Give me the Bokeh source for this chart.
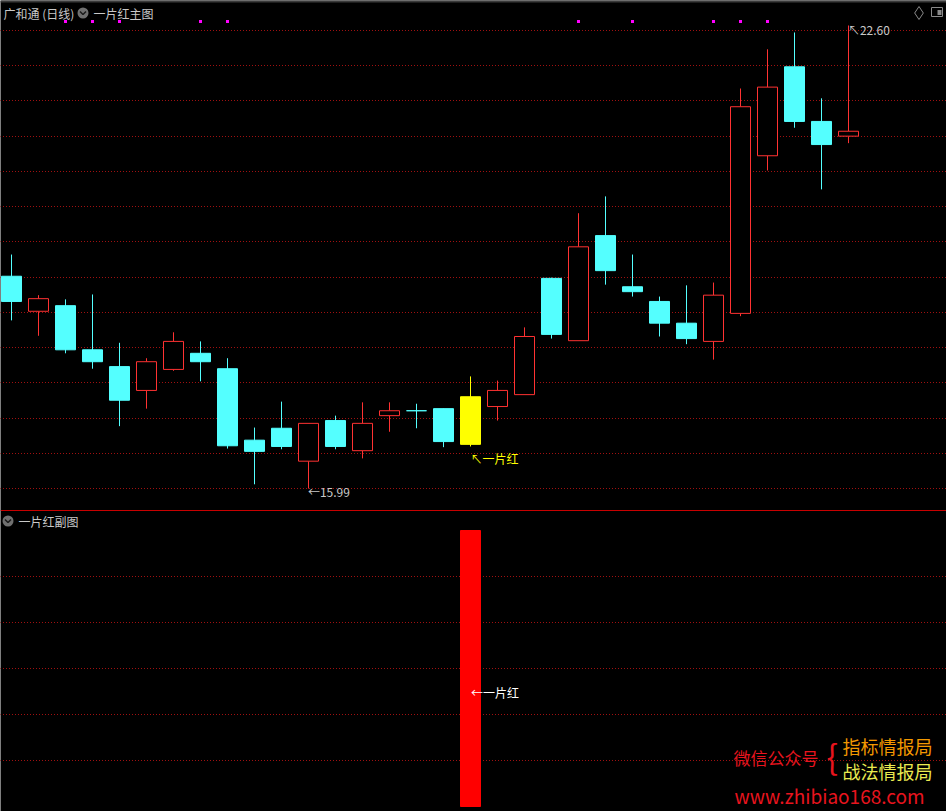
import numpy as np
from bokeh.plotting import figure
from bokeh.models import Range1d, ColumnDataSource
from bokeh.core.properties import value
from bokeh.embed import file_html
from bokeh.resources import INLINE

# ---- 广和通 daily bars ----
opens  = [19.02, 18.52, 18.60, 17.97, 17.73, 17.39, 17.69, 17.92, 17.70, 16.68,
          16.85, 16.38, 16.96, 16.53, 17.03, 17.10, 17.13, 16.62, 17.16, 17.33,
          18.99, 18.10, 19.60, 18.87, 18.66, 18.35, 18.09, 18.49, 20.74, 22.01,
          21.23, 21.02]
highs  = [19.33, 18.75, 18.69, 18.76, 18.07, 17.85, 18.22, 18.09, 17.85, 16.86,
          17.23, 16.92, 17.03, 17.22, 17.22, 17.20, 17.13, 17.59, 17.53, 18.29,
          19.00, 19.92, 20.16, 19.33, 18.73, 18.89, 18.93, 21.70, 22.26, 22.50,
          21.56, 22.60]
lows   = [18.39, 18.17, 17.92, 17.70, 16.88, 17.13, 17.67, 17.52, 16.56, 16.05,
          16.55, 15.99, 16.55, 16.42, 16.80, 16.85, 16.58, 16.59, 16.96, 17.33,
          18.13, 18.10, 18.90, 18.73, 18.16, 18.05, 17.83, 18.45, 20.53, 21.14,
          20.26, 20.92]
closes = [18.66, 18.70, 17.97, 17.80, 17.25, 17.80, 18.09, 17.80, 16.60, 16.52,
          16.59, 16.92, 16.59, 16.92, 17.10, 17.10, 16.66, 17.30, 17.39, 18.16,
          18.19, 19.44, 19.10, 18.80, 18.35, 18.13, 18.75, 21.44, 21.72, 21.23,
          20.90, 21.09]
# condition flags drawn as dots along the top of the main panel
top_flags = [0, 0, 1, 1, 1, 0, 0, 1, 1, 0, 0, 0, 0, 0, 0, 0,
             0, 0, 0, 0, 0, 1, 0, 1, 0, 0, 1, 1, 1, 0, 0, 0]
# 一片红 signal (main-panel highlight + sub-panel bar)
signal = [0] * 17 + [1] + [0] * 14

# ---- colours ----
UP = "#FF3232"
DOWN = "#54FFFF"
SIG = "#FFFF00"
GRID = "#A01010"
TXT = "#C8C8C8"
FONT = value("Noto Sans CJK SC")

# ---- layout constants (pixels) ----
W, H = 946, 811
X0, DX = 11.0, 27.0
LOW_PX, PX_PER_UNIT = 488.0, 70.05
SUB_ZERO_PX, SUB_PX = 806.0, 276.0

n = len(opens)
idx = list(range(n))
low_all = min(lows)


def sx(px):
    return (px - X0) / DX


def sy(py):
    return low_all + (LOW_PX - py) / PX_PER_UNIT


def ss(py):
    return (SUB_ZERO_PX - py) / SUB_PX


p = figure(width=W, height=H,
           x_range=Range1d(sx(0), sx(W)), y_range=Range1d(sy(H), sy(0)),
           output_backend="svg", toolbar_location=None, min_border=0,
           x_axis_location=None, y_axis_location=None,
           background_fill_color="black", border_fill_color="black",
           outline_line_color=None)
p.grid.visible = False
p.extra_y_ranges = {"sub": Range1d(ss(H), ss(0))}

# ---- dotted grid lines (dash phase kept on whole pixels) ----
main_levels = [sy(30 + round(k * 458.0 / 13)) for k in range(14)]
p.segment(x0=sx(-0.5), x1=sx(W), y0=main_levels, y1=main_levels,
          line_color=GRID, line_dash="1 2", line_width=1)
sub_levels = [k / 6 for k in range(1, 6)]
p.segment(x0=sx(-0.5), x1=sx(W), y0=sub_levels, y1=sub_levels,
          line_color=GRID, line_dash="1 2", line_width=1, y_range_name="sub")

# panel separator and top strip
p.segment(x0=sx(0), x1=sx(W), y0=sy(510), y1=sy(510), line_color="#C80000", line_width=1)
p.quad(left=sx(0), right=sx(W), top=sy(0), bottom=sy(2), fill_color="#3A3A3A", line_color=None)

# ---- candlesticks ----
wx0, wy0, wy1, wc = [], [], [], []
bx, btop, bbot, bfill, bline = [], [], [], [], []
for i in idx:
    o, h, l, c = opens[i], highs[i], lows[i], closes[i]
    hi_b, lo_b = max(o, c), min(o, c)
    if signal[i]:
        col, fill = SIG, SIG
        wx0 += [i]; wy0 += [h]; wy1 += [l]; wc += [col]
    elif c > o:
        col, fill = UP, "black"
        wx0 += [i, i]; wy0 += [h, lo_b]; wy1 += [hi_b, l]; wc += [col, col]
    else:
        col, fill = DOWN, DOWN
        wx0 += [i]; wy0 += [h]; wy1 += [l]; wc += [col]
    bx.append(i); btop.append(hi_b); bbot.append(lo_b); bfill.append(fill); bline.append(col)

p.segment(x0=wx0, x1=wx0, y0=wy0, y1=wy1, line_color=wc, line_width=1)
body = ColumnDataSource(dict(x=bx, top=btop, bottom=bbot, fill=bfill, line=bline))
p.vbar(x="x", width=20 / DX, top="top", bottom="bottom", source=body,
       fill_color="fill", line_color="line", line_width=1)

# top condition dots
flag_x = [i for i in idx if top_flags[i]]
p.scatter(x=flag_x, y=[sy(21)] * len(flag_x), marker="square", size=3,
          fill_color="#FF00FF", line_color=None)

# ---- sub panel signal bars ----
sig_x = [i for i in idx if signal[i]]
p.vbar(x=sig_x, width=20 / DX, top=[signal[i] for i in sig_x], bottom=0,
       fill_color="#FF0000", line_color="#FF0000", line_width=1, y_range_name="sub")

# ---- price annotations ----
i_hi = int(np.argmax(highs))
i_lo = int(np.argmin(lows))
p.text(x=[i_hi - 0.02], y=[sy(28.5)], text=[f"↖{highs[i_hi]:.2f}"], text_font=FONT,
       text_font_size="12px", text_color=TXT, text_baseline="middle", text_align="left")
p.text(x=[i_lo - 0.02], y=[sy(490.5)], text=[f"←{lows[i_lo]:.2f}"], text_font=FONT,
       text_font_size="12px", text_color=TXT, text_baseline="middle", text_align="left")
for i in sig_x:
    p.text(x=[i], y=[sy(458)], text=["↖一片红"], text_font=FONT, text_font_size="12px",
           text_color=SIG, text_baseline="middle", text_align="left")
    p.text(x=[i + 0.02], y=[sy(692)], text=["←一片红"], text_font=FONT, text_font_size="12px",
           text_color="#FFFFFF", text_baseline="middle", text_align="left")

# ---- panel headers ----
def header_icon(cx, cy):
    p.scatter(x=[sx(cx)], y=[sy(cy)], marker="circle", size=11,
              fill_color="#707070", line_color=None)
    p.line(x=[sx(cx - 3), sx(cx), sx(cx + 3)], y=[sy(cy - 1.5), sy(cy + 1.5), sy(cy - 1.5)],
           line_color="#1A1A1A", line_width=1.5)


p.text(x=[sx(3)], y=[sy(12.5)], text=["广和通 (日线)"], text_font=FONT, text_font_size="12px",
       text_color=TXT, text_baseline="middle", text_align="left")
header_icon(82.5, 12.5)
p.text(x=[sx(93)], y=[sy(12.5)], text=["一片红主图"], text_font=FONT, text_font_size="12px",
       text_color=TXT, text_baseline="middle", text_align="left")
header_icon(7.5, 520.5)
p.text(x=[sx(18)], y=[sy(520.5)], text=["一片红副图"], text_font=FONT, text_font_size="12px",
       text_color=TXT, text_baseline="middle", text_align="left")

# top-right window icons
p.scatter(x=[sx(918.5)], y=[sy(12.5)], marker="diamond", size=13,
          fill_color=None, line_color="#8A8A8A", line_width=1)
p.quad(left=sx(931), right=sx(942), top=sy(7), bottom=sy(16),
       fill_color=None, line_color="#8A8A8A", line_width=1)
p.quad(left=sx(937), right=sx(941), top=sy(9.5), bottom=sy(14.5),
       fill_color="#8A8A8A", line_color=None)

# ---- corner credit ----
p.text(x=[sx(733)], y=[sy(757)], text=["微信公众号"], text_font=FONT, text_font_size="17px",
       text_color="#E8141E", text_baseline="middle", text_align="left")
p.text(x=[sx(826)], y=[sy(755)], text=["{"], text_font=FONT, text_font_size="34px",
       text_color="#E8141E", text_baseline="middle", text_align="left")
p.text(x=[sx(842)], y=[sy(745)], text=["指标情报局"], text_font=FONT, text_font_size="18px",
       text_color="#F39800", text_baseline="middle", text_align="left")
p.text(x=[sx(842)], y=[sy(770)], text=["战法情报局"], text_font=FONT, text_font_size="18px",
       text_color="#EAEA50", text_baseline="middle", text_align="left")
p.text(x=[sx(734)], y=[sy(795)], text=["www.zhibiao168.com"], text_font=FONT, text_font_size="19px",
       text_color="#E8141E", text_baseline="middle", text_align="left")

open("out.html", "w").write(file_html(p, INLINE))
